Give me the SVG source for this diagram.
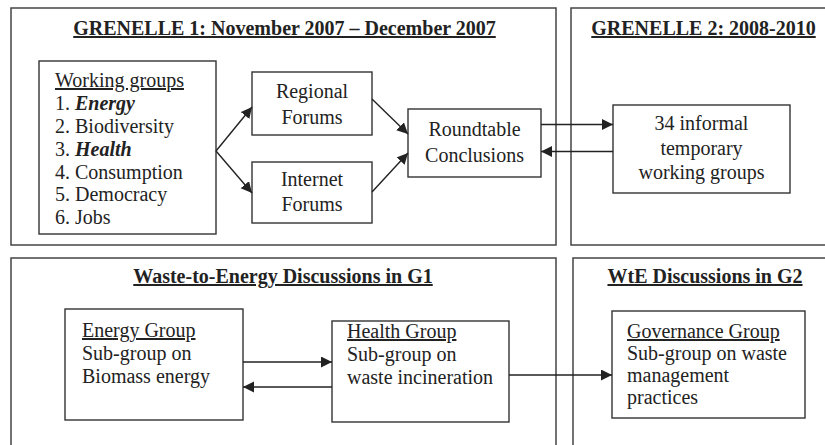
<svg xmlns="http://www.w3.org/2000/svg" width="825" height="445" viewBox="0 0 825 445" font-family="'Liberation Serif', 'Times New Roman', serif" font-size="20">
<defs>
<marker id="ah" markerUnits="userSpaceOnUse" markerWidth="13" markerHeight="13" refX="11" refY="5.5" orient="auto">
<path d="M0,0 L11,5.5 L0,11 z" fill="#222"/>
</marker>
<style>
.panel{fill:none;stroke:#444;stroke-width:1.5}
.box{fill:#fff;stroke:#333;stroke-width:1.4}
text{font-family:'Liberation Serif','Times New Roman',serif;font-size:20px;fill:#222}
.title{font-weight:bold;text-decoration:underline}
.c{text-anchor:middle}
.u{text-decoration:underline}
.bi{font-weight:bold;font-style:italic}
.conn{stroke:#222;stroke-width:1.4;fill:none;marker-end:url(#ah)}
</style>
</defs>
<rect width="825" height="445" fill="#fff"/>
<g id="panel-g1"><rect class="panel" x="11" y="8" width="545" height="237"/>
<text class="title c" x="284.5" y="35">GRENELLE 1: November 2007 – December 2007</text></g>
<g id="panel-g2"><rect class="panel" x="571" y="8" width="262" height="237"/>
<text class="title c" x="703.5" y="35">GRENELLE 2: 2008-2010</text></g>
<g id="panel-wte-g1"><rect class="panel" x="11" y="258" width="545" height="195"/>
<text class="title c" x="283" y="283">Waste-to-Energy Discussions in G1</text></g>
<g id="panel-wte-g2"><rect class="panel" x="573" y="258" width="262" height="195"/>
<text class="title c" x="705" y="283">WtE Discussions in G2</text></g>

<g id="working-groups"><rect class="box" x="39" y="61" width="177" height="173"/>
<text x="55" y="87" class="u">Working groups</text>
<text x="55" y="110">1. <tspan class="bi">Energy</tspan></text>
<text x="55" y="133">2. Biodiversity</text>
<text x="55" y="155.5">3. <tspan class="bi">Health</tspan></text>
<text x="55" y="178.5">4. Consumption</text>
<text x="55" y="201">5. Democracy</text>
<text x="55" y="224">6. Jobs</text></g>

<g id="regional-forums"><rect class="box" x="252" y="72" width="120" height="63"/>
<text class="c" x="312" y="97.5">Regional</text><text class="c" x="312" y="123.5">Forums</text></g>
<g id="internet-forums"><rect class="box" x="252" y="162" width="120" height="61"/>
<text class="c" x="312" y="186">Internet</text><text class="c" x="312" y="211">Forums</text></g>
<g id="roundtable"><rect class="box" x="408" y="109" width="133" height="68"/>
<text class="c" x="474.5" y="136">Roundtable</text><text class="c" x="474.5" y="162">Conclusions</text></g>
<g id="informal-groups"><rect class="box" x="613" y="105" width="177" height="88"/>
<text class="c" x="701.5" y="130">34 informal</text><text class="c" x="701.5" y="155">temporary</text><text class="c" x="701.5" y="179">working groups</text></g>

<g id="energy-group"><rect class="box" x="65" y="309" width="178" height="111"/>
<text x="82" y="337" class="u">Energy Group</text><text x="82" y="360">Sub-group on</text><text x="82" y="383">Biomass energy</text></g>
<g id="health-group"><rect class="box" x="332" y="321" width="177" height="101"/>
<text x="347" y="338" class="u">Health Group</text><text x="347" y="361">Sub-group on</text><text x="347" y="384">waste incineration</text></g>
<g id="governance-group"><rect class="box" x="612" y="311" width="193" height="107"/>
<text x="627" y="338" class="u">Governance Group</text><text x="627" y="360">Sub-group on waste</text><text x="627" y="382">management</text><text x="627" y="404">practices</text></g>

<g id="connectors">
<line class="conn" x1="216" y1="151" x2="252" y2="107"/>
<line class="conn" x1="216" y1="151" x2="252" y2="193"/>
<line class="conn" x1="372" y1="99" x2="408" y2="134"/>
<line class="conn" x1="372" y1="192" x2="408" y2="153"/>
<line class="conn" x1="541" y1="124.5" x2="613" y2="124.5"/>
<line class="conn" x1="613" y1="151.5" x2="541" y2="151.5"/>
<line class="conn" x1="243" y1="362" x2="332" y2="362"/>
<line class="conn" x1="332" y1="387" x2="243" y2="387"/>
<line class="conn" x1="509" y1="375" x2="612" y2="375"/>
</g>
</svg>
